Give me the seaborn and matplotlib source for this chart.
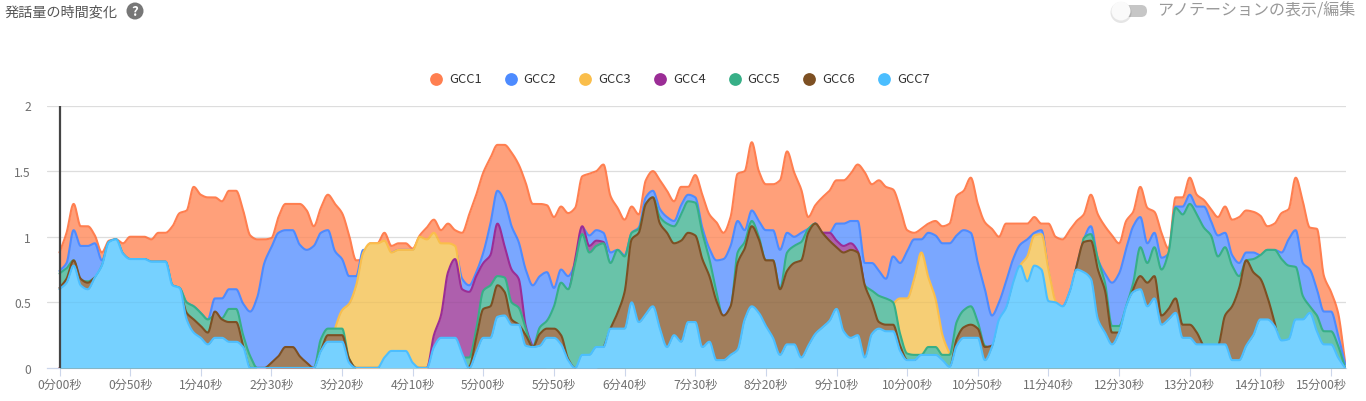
import numpy as np
import pandas as pd
import seaborn as sns
import matplotlib
matplotlib.use("Agg")
import matplotlib.pyplot as plt
from matplotlib.lines import Line2D
from matplotlib.patches import FancyBboxPatch, Circle
from matplotlib.transforms import IdentityTransform, ScaledTranslation

STEP_SECONDS = 5
GCC1 = [.88,1.03,1.25,1.08,1.08,1.01,.88,.97,.98,.95,
        1.0,1.0,1.0,.98,1.03,1.03,1.08,1.18,1.20,1.38,
        1.32,1.30,1.30,1.27,1.35,1.35,1.20,1.01,.98,.98,
        .99,1.15,1.25,1.25,1.25,1.20,1.08,1.22,1.32,1.25,
        1.18,1.01,.82,.83,.95,.95,1.03,.93,.95,.95,
        .91,1.01,1.07,1.13,1.05,1.10,1.05,1.03,1.17,1.32,
        1.49,1.60,1.70,1.70,1.64,1.55,1.41,1.25,1.25,1.24,
        1.15,1.23,1.18,1.22,1.46,1.48,1.50,1.55,1.31,1.22,
        1.13,1.23,1.17,1.43,1.50,1.43,1.35,1.27,1.38,1.38,
        1.47,1.32,1.17,1.11,1.03,1.15,1.48,1.50,1.72,1.50,
        1.40,1.40,1.43,1.65,1.49,1.36,1.15,1.24,1.30,1.35,
        1.43,1.43,1.48,1.55,1.49,1.40,1.43,1.38,1.36,1.22,
        1.05,1.03,1.06,1.10,1.12,1.08,1.10,1.31,1.35,1.45,
        1.25,1.11,1.06,1.0,1.10,1.10,1.10,1.10,1.15,1.10,
        1.10,1.0,.98,1.05,1.12,1.17,1.32,1.17,1.08,1.01,
        .95,1.12,1.19,1.38,1.22,1.19,1.03,.91,1.30,1.30,
        1.45,1.32,1.28,1.21,1.15,1.23,1.13,1.15,1.20,1.19,
        1.16,1.08,1.10,1.18,1.21,1.45,1.27,1.07,1.06,.70,
        .58,.42,.04]
GCC2 = [.74,.80,1.05,.93,.93,.95,.82,.96,.98,.87,
        .83,.83,.83,.81,.81,.81,.63,.61,.50,.47,
        .42,.37,.53,.53,.60,.60,.49,.43,.54,.80,
        .92,1.03,1.05,1.05,.94,.90,.93,1.03,1.05,.89,
        .83,.70,.70,.90,.90,.90,.90,.88,.90,.90,
        .90,.90,.90,.90,.90,.90,.90,.68,.63,.73,
        .88,1.10,1.35,1.27,1.08,.96,.75,.63,.70,.73,
        .61,.75,.70,.80,1.07,1.01,1.05,1.03,.88,.90,
        .86,1.03,1.07,1.30,1.35,1.21,1.15,1.12,1.24,1.32,
        1.30,1.07,.91,.82,.83,.93,1.12,1.05,1.20,1.12,
        1.05,1.05,.90,1.03,1.0,1.03,1.06,1.10,1.03,1.03,
        1.10,1.10,1.12,1.12,.80,.80,.74,.68,.85,.80,
        .89,.98,.98,1.03,1.01,.95,.95,1.01,1.05,1.03,
        .80,.60,.40,.50,.66,.83,.94,.98,1.03,1.05,
        .74,.50,.47,.58,.78,.98,1.08,.83,.72,.65,
        .72,.91,1.08,1.15,.95,1.03,.84,.87,1.23,1.23,
        1.32,1.23,1.23,1.12,1.01,1.03,.86,.80,.88,.88,
        .86,.90,.90,.88,.98,1.05,.80,.75,.60,.43,
        .43,.25,.03]
GCC3 = [0]*38 + [.10,.30,
        .44,.49,.63,.88,.95,.95,.97,.88,.90,.90,
        .90,1.0,.98,1.03,.95,.95,.93,.55,.20,0] + [0]*58 + [.48,.53,
        .53,.68,.88,.69,.53,.25,.11,0,0,0,
        0,0,0,0,.30,.60,.78,.85,1.01,1.02,
        .75,.51,.45] + [0]*40
GCC4 = [0]*50 + [0,0,0,.25,.40,.73,.83,.60,.58,.70,
        .80,.86,1.10,.93,.75,.68,.32,.16,.05,0,
        0,.40,.55,.83,1.08,.93,.97,.96,.75,.60] + [0]*20 + [
        0,0,0,0,0,.50,.90,1.10,1.03,1.03,
        .97,.93,.95,.89,.60,.30,0,0,0,0] + [0]*63
GCC5 = [.72,.76,.82,.67,.66,.69,.78,.96,.98,.87,
        .83,.83,.83,.81,.81,.81,.63,.61,.50,.47,
        .42,.37,.40,.38,.45,.45,.25,.09,0,0,
        0,0,0,0,0,0,0,.22,.30,.30,
        .30,.07,0,0,0,0,0,0,0,0,
        0,0,0,0,0,0,0,.08,.08,.30,
        .59,.63,.70,.69,.50,.46,.30,.16,.31,.36,
        .47,.65,.60,.80,1.02,.88,.93,.95,.80,.90,
        .85,1.03,1.06,1.25,1.30,1.15,1.10,1.08,1.17,1.27,
        1.26,1.03,.83,.58,.38,.45,.88,.96,1.12,1.0,
        .82,.82,.60,.88,.93,.96,1.06,1.10,1.0,.95,
        .90,.85,.85,.85,.63,.59,.55,.53,.50,.26,
        .11,.10,.10,.16,.16,.10,.10,.35,.44,.47,
        .35,.17,.15,.20,.20,.20,.20,.20,.20,.20,
        .20,.20,.20,.30,.50,.99,1.02,.83,.65,.32,
        .32,.47,.65,.92,.80,.92,.75,.88,1.22,1.17,
        1.25,1.17,1.07,1.01,.85,.92,.78,.70,.82,.83,
        .86,.90,.90,.83,.78,.77,.55,.47,.40,.28,
        .28,.17,0]
GCC6 = [.61,.68,.82,.68,.65,.69,.74,.90,.90,.80,
        .80,.80,.80,.78,.78,.78,.60,.58,.42,.37,
        .32,.27,.43,.37,.35,.35,.17,0,0,0,
        .04,.09,.16,.16,.09,.04,0,.13,.25,.25,
        .25,.07,0,0,0,0,0,0,0,0,
        0,0,0,0,0,0,0,0,.01,.23,
        .45,.47,.63,.58,.37,.33,.25,.16,.26,.30,
        .30,.25,.07,0,0,0,0,.15,.30,.42,
        .58,.98,1.03,1.25,1.30,1.10,1.03,.95,.97,1.03,
        1.01,.83,.70,.51,.40,.47,.80,.91,1.08,.98,
        .82,.82,.60,.74,.80,.82,1.03,1.10,1.03,.97,
        .92,.88,.90,.88,.63,.50,.35,.33,.33,.17,
        .06,.05,.08,.08,.08,.05,0,.22,.31,.33,
        .30,.16,.17,.30,.40,.60,.70,.60,.70,.70,
        .45,.45,.45,.55,.78,.96,.97,.75,.59,.27,
        .27,.42,.60,.70,.65,.70,.40,.45,.53,.33,
        .33,.27,.17,.15,.17,.40,.47,.61,.82,.73,
        .68,.54,.35,.15,.15,.30,.30,.30,.20,.12,
        .12,.05,0]
GCC7 = [.60,.65,.78,.63,.60,.69,.78,.96,.98,.87,
        .83,.83,.83,.81,.81,.81,.63,.61,.37,.27,
        .23,.18,.23,.23,.20,.20,.16,0,0,0,
        0,0,0,0,0,0,0,.13,.20,.20,
        .20,.04,0,0,0,0,.08,.13,.13,.13,
        .04,0,0,.16,.23,.23,.23,.11,0,.12,
        .23,.23,.39,.40,.33,.33,.17,.16,.17,.23,
        .23,.18,.06,0,.10,.10,.16,.16,.30,.30,
        .30,.50,.35,.41,.47,.30,.16,.25,.20,.35,
        .35,.16,.20,.06,.06,.10,.14,.37,.47,.42,
        .32,.23,.10,.18,.18,.08,.17,.26,.31,.36,
        .45,.28,.23,.25,.08,.26,.30,.28,.28,.13,
        .06,.06,.10,.10,.10,.06,.01,.17,.23,.23,
        .23,.06,.16,.37,.46,.65,.78,.66,.78,.75,
        .51,.50,.47,.58,.75,.73,.68,.37,.27,.18,
        .27,.47,.58,.60,.47,.53,.33,.37,.42,.23,
        .23,.18,.18,.18,.18,.18,.06,.06,.17,.25,
        .37,.37,.32,.21,.22,.37,.37,.42,.28,.18,
        .18,.08,0]

SERIES_NAMES = ["GCC1", "GCC2", "GCC3", "GCC4", "GCC5", "GCC6", "GCC7"]
SERIES_VALUES = [GCC1, GCC2, GCC3, GCC4, GCC5, GCC6, GCC7]
LINE_COLORS = ["#FF7F50", "#4D8BFF", "#FABE4B", "#9B2D96", "#37AF87", "#7D5023", "#4BBEFF"]
FILL_COLORS = ["#FFA07A", "#7AA7FF", "#F6CE75", "#AE5FAD", "#69C3A9", "#A17E5C", "#76D1FF"]
TICK_SECONDS = list(range(0, 901, 50))
TICK_LABELS = ["%d分%02d秒" % (s // 60, s % 60) for s in TICK_SECONDS]
Y_TICKS = [0, 0.5, 1, 1.5, 2]
Y_LABELS = ["0", "0.5", "1", "1.5", "2"]
TITLE = "発話量の時間変化"
TOGGLE_LABEL = "アノテーションの表示/編集"


def pchip(x, y, xq):
    """Monotone cubic curve through the read points (the chart's smooth line)."""
    x = np.asarray(x, float); y = np.asarray(y, float)
    h = np.diff(x); d = np.diff(y) / h
    m = np.zeros_like(y)
    for k in range(1, len(y) - 1):
        if d[k - 1] * d[k] > 0:
            w1 = 2 * h[k] + h[k - 1]; w2 = h[k] + 2 * h[k - 1]
            m[k] = (w1 + w2) / (w1 / d[k - 1] + w2 / d[k])
    m[0] = d[0]; m[-1] = d[-1]
    idx = np.clip(np.searchsorted(x, xq, side="right") - 1, 0, len(h) - 1)
    t = (xq - x[idx]) / h[idx]
    return ((2*t**3 - 3*t**2 + 1) * y[idx] + (t**3 - 2*t**2 + t) * h[idx] * m[idx]
            + (-2*t**3 + 3*t**2) * y[idx + 1] + (t**3 - t**2) * h[idx] * m[idx + 1])


sns.set_theme(style="white")
plt.rcParams["font.family"] = ["Noto Sans CJK JP", "DejaVu Sans"]

W, H = 1366, 402
fig = plt.figure(figsize=(W / 100, H / 100), dpi=100, facecolor="white")
ax = fig.add_axes([47 / W, 1 - 369 / H, (1346 - 47) / W, (369 - 106.5) / H])

secs = np.arange(len(GCC1)) * STEP_SECONDS
dense = np.linspace(secs[0], secs[-1], 3000)

ax.set_xlim((47 - 59.5) / 1.4128, (1346 - 59.5) / 1.4128)
ax.set_ylim(0, 2)
for v in Y_TICKS[1:]:
    ax.axhline(v, color="#E6E6E6", lw=0.9, zorder=1)

for k, (name, values) in enumerate(zip(SERIES_NAMES, SERIES_VALUES)):
    assert len(values) == len(secs), name
    curve = np.clip(pchip(secs, values, dense), 0, None)
    ax.fill_between(dense, 0, curve, color=FILL_COLORS[k], lw=0, zorder=2 + k * 2)
    df = pd.DataFrame({"sec": dense, "value": curve})
    sns.lineplot(data=df, x="sec", y="value", color=LINE_COLORS[k], lw=1.5, ax=ax,
                 estimator=None, sort=False, errorbar=None, legend=False,
                 zorder=3 + k * 2, solid_joinstyle="round")

for v in Y_TICKS[1:]:
    ax.axhline(v, color="black", alpha=0.035, lw=0.9, zorder=20)
ax.plot([0, 0], [0, 2], color="#444444", lw=1.6, zorder=25, solid_capstyle="butt")

for s in ["top", "left", "right"]:
    ax.spines[s].set_visible(False)
ax.spines["bottom"].set_color("#CCD6EB")
ax.spines["bottom"].set_linewidth(0.9)
ax.spines["bottom"].set_zorder(1)

ax.set_xlabel(""); ax.set_ylabel("")
ax.set_xticks(TICK_SECONDS, TICK_LABELS)
ax.set_yticks(Y_TICKS, Y_LABELS)
ax.tick_params(axis="x", length=5.8, width=0.8, color="#CCD6EB", labelcolor="#707070",
               labelsize=8.7, pad=1.5, bottom=True)
ax.tick_params(axis="y", length=0, labelcolor="#707070", labelsize=8.7, pad=11.5)
last = ax.get_xticklabels()[-1]
last.set_transform(last.get_transform() + ScaledTranslation(-10 / 100, 0, fig.dpi_scale_trans))


def fx(x):
    return x / W


def fy(y):
    return 1 - y / H


# legend row
LEGEND_X = [436, 510.7, 585.4, 660, 734.7, 809.4, 884]
for x, name, col in zip(LEGEND_X, SERIES_NAMES, LINE_COLORS):
    fig.add_artist(Line2D([fx(x)], [fy(79.5)], marker="o", ms=9.2, mfc=col, mec=col, mew=0,
                          ls="none", transform=fig.transFigure))
    fig.text(fx(x + 13), fy(79.5), name, fontsize=9.3, color="#333333", ha="left", va="center")

# heading
fig.text(fx(5), fy(12), TITLE, fontsize=10.2, color="#555555", ha="left", va="center")
fig.add_artist(Circle((135, H - 12), 8.5, color="#777777", lw=0, transform=IdentityTransform()))
fig.text(fx(135), fy(12), "?", fontsize=9.5, fontweight="bold", color="white",
         ha="center", va="center")

# annotation toggle
track = FancyBboxPatch((1119, H - 18), 28, 12, boxstyle="round,pad=0,rounding_size=6",
                       fc="#C6C6C6", ec="none", transform=IdentityTransform())
fig.add_artist(track)
fig.add_artist(Circle((1121, H - 13.5), 10.5, color="#000000", alpha=0.10, lw=0,
                      transform=IdentityTransform()))
fig.add_artist(Circle((1121, H - 12), 9.5, color="#FAFAFA", lw=0, transform=IdentityTransform()))
fig.text(fx(1157), fy(11), TOGGLE_LABEL, fontsize=11.5, color="#999999", ha="left", va="center")

fig.savefig("out.png", dpi=100, facecolor="white")
